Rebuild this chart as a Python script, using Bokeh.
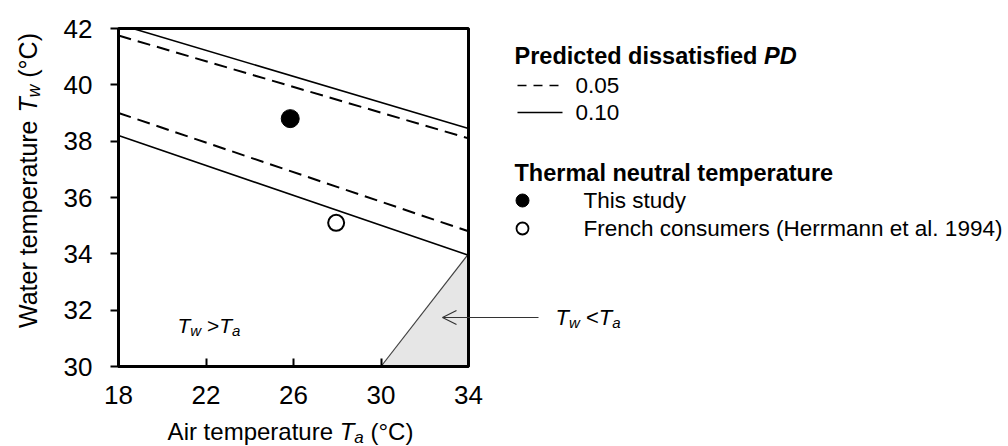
import math
from bokeh.plotting import figure
from bokeh.models import Label, Arrow, OpenHead, Range1d, BoxAnnotation
from bokeh.embed import file_html
from bokeh.resources import INLINE

# ---------------- data ----------------
pd05_upper_ta = [18, 34]
pd05_upper_tw = [41.75, 38.10]
pd10_upper_ta = [18.65, 34]
pd10_upper_tw = [42.00, 38.45]
pd05_lower_ta = [18, 34]
pd05_lower_tw = [39.00, 34.80]
pd10_lower_ta = [18, 34]
pd10_lower_tw = [38.20, 33.95]
this_study_ta = [25.85]
this_study_tw = [38.80]
french_ta = [27.95]
french_tw = [35.10]
warm_region_ta = [30, 34, 34]
warm_region_tw = [30, 34, 30]
x_ticks = [18, 22, 26, 30, 34]
y_ticks = [30, 32, 34, 36, 38, 40, 42]
legend_pd = ["0.05", "0.10"]
legend_tn = ["This study", "French consumers (Herrmann et al. 1994)"]

FONT = "Liberation Sans"
W, H = 1008, 446
PX_L, PX_R, PX_T, PX_B = 118, 468, 28, 366      # plot box in pixels
x_lo, x_hi = x_ticks[0], x_ticks[-1]
y_lo, y_hi = y_ticks[0], y_ticks[-1]
XPX = (PX_R - PX_L) / (x_hi - x_lo)
YPX = (PX_B - PX_T) / (y_hi - y_lo)

p = figure(width=W, height=H,
           x_range=Range1d(x_lo - PX_L / XPX, x_lo + (W - PX_L) / XPX),
           y_range=Range1d(y_lo - (H - PX_B) / YPX, y_hi + PX_T / YPX),
           output_backend="svg", toolbar_location=None,
           min_border_left=0, min_border_right=0, min_border_top=0, min_border_bottom=0)
p.outline_line_color = None
p.grid.visible = False
p.background_fill_color = "white"
p.border_fill_color = "white"


def dx(px):
    return x_lo + (px - PX_L) / XPX


def dy(py):
    return y_hi - (py - PX_T) / YPX


# ---------------- axes ----------------
for ax in (p.xaxis[0], p.yaxis[0]):
    ax.axis_line_width = 3
    ax.axis_line_color = "black"
    ax.major_tick_line_width = 2
    ax.major_tick_line_color = "black"
    ax.minor_tick_line_color = None
    ax.major_label_text_font = FONT
    ax.major_label_text_font_size = "26px"
    ax.major_label_text_color = "black"

xa = p.xaxis[0]
xa.fixed_location = y_lo
xa.bounds = (x_lo, x_hi)
xa.ticker = x_ticks
xa.major_tick_in = 8
xa.major_tick_out = 0
xa.major_label_standoff = 19

ya = p.yaxis[0]
ya.fixed_location = x_lo
ya.bounds = (y_lo, y_hi)
ya.ticker = y_ticks
ya.major_tick_in = 0
ya.major_tick_out = 8
ya.major_label_standoff = 18

# ---------------- marks ----------------
p.patch(warm_region_ta, warm_region_tw, fill_color="#e6e6e6", line_color=None)
p.line(warm_region_ta[:2], warm_region_tw[:2], line_color="#404040", line_width=1.2)

p.line(pd05_upper_ta, pd05_upper_tw, line_color="black", line_width=2, line_dash="13 7")
p.line(pd10_upper_ta, pd10_upper_tw, line_color="black", line_width=1.6)
p.line(pd05_lower_ta, pd05_lower_tw, line_color="black", line_width=2, line_dash="13 7")
p.line(pd10_lower_ta, pd10_lower_tw, line_color="black", line_width=1.6)

p.scatter(this_study_ta, this_study_tw, size=18, fill_color="black", line_color="black")
p.scatter(french_ta, french_tw, size=16, fill_color="white", line_color="black", line_width=2)

p.add_layout(BoxAnnotation(left=x_lo, right=x_hi, bottom=y_lo, top=y_hi,
                           fill_alpha=0, line_color="black", line_alpha=1.0,
                           line_width=3))

# ---------------- text helpers ----------------
REG = {' ': 278, '(': 333, ')': 333, '.': 278, '°': 400, '>': 584, '<': 584,
       'A': 667, 'C': 722, 'F': 611, 'H': 722, 'P': 667, 'T': 611, 'W': 944, 'D': 722,
       'a': 556, 'c': 500, 'd': 556, 'e': 556, 'f': 278, 'h': 556, 'i': 222, 'l': 222,
       'm': 833, 'n': 556, 'o': 556, 'p': 556, 'r': 333, 's': 500, 't': 278, 'u': 556,
       'w': 722, 'y': 500}
BOLD = {' ': 278, 'P': 667, 'T': 611, 'D': 722, 'a': 556, 'c': 556, 'd': 611, 'e': 556,
        'f': 333, 'h': 611, 'i': 278, 'l': 278, 'm': 889, 'n': 611, 'p': 611, 'r': 389,
        's': 556, 't': 333, 'u': 611}


def text_w(s, style, size):
    tab = BOLD if "bold" in style else REG
    return sum(tab.get(c, 556) for c in s) * size / 1000.0


def rich(x, y, segs, align="left", vertical=False, color="black"):
    """segs: (text, style, size_px, shift_px) ; y (or x if vertical) is the text centre."""
    total = sum(text_w(t, st, sz) for t, st, sz, sh in segs)
    cur = (y + total / 2 if vertical else x - total / 2) if align == "center" else (y if vertical else x)
    for t, st, sz, sh in segs:
        lead = len(t) - len(t.lstrip(" "))
        adv = text_w(" " * lead, st, sz)
        body = t.strip(" ")
        if vertical:
            lx, ly, ang = dx(x + sh), dy(cur - adv), math.pi / 2
        else:
            lx, ly, ang = dx(cur + adv), dy(y + sh), 0.0
        p.add_layout(Label(x=lx, y=ly, text=body, text_font=FONT,
                           text_font_style=st, text_font_size=f"{sz}px",
                           text_color=color, text_align="left",
                           text_baseline="middle", angle=ang))
        if vertical:
            cur -= text_w(t, st, sz)
        else:
            cur += text_w(t, st, sz)


# axis titles
rich(290, 431, [("Air temperature ", "normal", 24, 0), ("T", "italic", 24, 0),
                ("a", "italic", 17, 6), (" (°C)", "normal", 24, 0)], align="center")
rich(27, 180, [("Water temperature ", "normal", 25, 0), ("T", "italic", 25, 0),
               ("w", "italic", 17.5, 6), (" (°C)", "normal", 25, 0)], align="center",
     vertical=True)

# in-plot annotations
rich(177, 325, [("T", "italic", 21, 0), ("w", "italic", 15, 5), (" >", "normal", 21, 0),
                ("T", "italic", 21, 0), ("a", "italic", 15, 5)])
rich(555, 317, [("T", "italic", 22, 0), ("w", "italic", 15, 5), (" <", "normal", 22, 0),
                ("T", "italic", 22, 0), ("a", "italic", 15, 5)])
p.add_layout(Arrow(end=OpenHead(size=14, line_width=1.2, line_color="#333333"),
                   x_start=dx(538), y_start=dy(317), x_end=dx(442), y_end=dy(317),
                   line_width=1.2, line_color="#333333"))

# legend
LX = 514
rich(LX, 55, [("Predicted dissatisfied ", "bold", 23.5, 0), ("PD", "bold italic", 23.5, 0)])
for i, (lab, dash) in enumerate(zip(legend_pd, ["9 7", "solid"])):
    yy = 85 + 27 * i
    p.line([dx(LX + 3), dx(LX + 48)], [dy(yy), dy(yy)], line_color="black",
           line_width=1.6, line_dash=dash)
    rich(575, yy, [(lab, "normal", 22.5, 0)])

rich(LX, 172, [("Thermal neutral temperature", "bold", 23.5, 0)])
p.scatter([dx(LX + 8)], [dy(200)], size=13, fill_color="black", line_color="black")
p.scatter([dx(LX + 8)], [dy(228)], size=12, fill_color="white", line_color="black",
          line_width=1.8)
for i, lab in enumerate(legend_tn):
    rich(583, 200 + 28 * i, [(lab, "normal", 22.5, 0)])

open("out.html", "w").write(file_html(p, INLINE))
